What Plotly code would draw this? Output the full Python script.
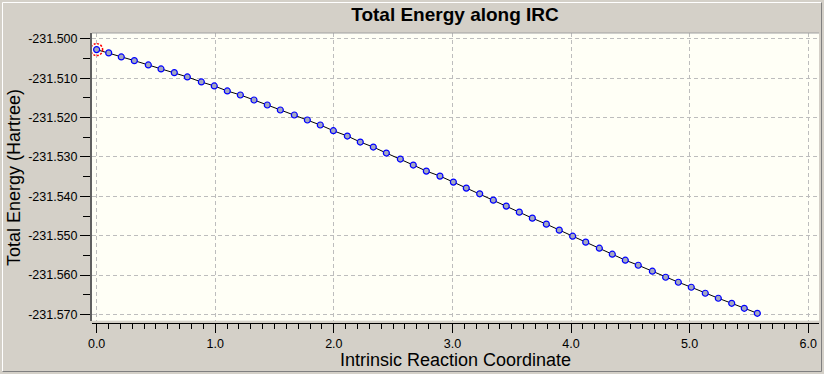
import plotly.graph_objects as go

# IRC data
irc_coord = [0.000, 0.102, 0.208, 0.318, 0.436, 0.543, 0.655, 0.765, 0.883, 0.992,
             1.102, 1.212, 1.327, 1.439, 1.549, 1.667, 1.777, 1.886, 1.996, 2.114,
             2.223, 2.333, 2.443, 2.561, 2.670, 2.780, 2.895, 3.008, 3.117, 3.230,
             3.345, 3.454, 3.564, 3.674, 3.792, 3.901, 4.014, 4.124, 4.239, 4.348,
             4.458, 4.567, 4.686, 4.798, 4.905, 5.014, 5.132, 5.242, 5.355, 5.461,
             5.571]
energy = [-231.50272, -231.50356, -231.50458, -231.50552, -231.50662, -231.50763,
          -231.50858, -231.50967, -231.51094, -231.51196, -231.51323, -231.51425,
          -231.51552, -231.51679, -231.51807, -231.51934, -231.52061, -231.52188,
          -231.52333, -231.52468, -231.52621, -231.52748, -231.52901, -231.53053,
          -231.53206, -231.53359, -231.53486, -231.53639, -231.53791, -231.53936,
          -231.54097, -231.54249, -231.54402, -231.54555, -231.54707, -231.54860,
          -231.55013, -231.55165, -231.55318, -231.55471, -231.55623, -231.55751,
          -231.55903, -231.56056, -231.56183, -231.56310, -231.56463, -231.56590,
          -231.56718, -231.56845, -231.56972]

x_tick_vals = [0, 1, 2, 3, 4, 5, 6]
x_tick_labels = ["0.0", "1.0", "2.0", "3.0", "4.0", "5.0", "6.0"]
y_tick_vals = [-231.50, -231.51, -231.52, -231.53, -231.54, -231.55, -231.56, -231.57]
y_tick_labels = ["-231.500", "-231.510", "-231.520", "-231.530",
                 "-231.540", "-231.550", "-231.560", "-231.570"]

FONT = "Liberation Sans, Arial, sans-serif"
PAPER = "#D4D0C8"
PLOT_BG = "#FFFFF6"
GRID = "#BDBDBD"

fig = go.Figure()
fig.add_trace(go.Scatter(
    x=irc_coord, y=energy, mode="lines+markers",
    line=dict(color="black", width=1),
    marker=dict(size=6, color="#A4A8C0", line=dict(color="#0000FF", width=1.2)),
    showlegend=False, hoverinfo="x+y",
))

W, H = 824, 374
ml, mr, mt, mb = 92, 5, 33, 51
pw, ph = W - ml - mr, H - mt - mb


def px_x(p):
    return (p - ml) / pw


def px_y(p):
    return (H - mb - p) / ph


shapes = [
    # red dotted highlight around the first point
    dict(type="circle", xref="x", yref="y", xsizemode="pixel", ysizemode="pixel",
         xanchor=irc_coord[0], yanchor=energy[0], x0=-6, x1=6, y0=-6, y1=6,
         line=dict(color="#FF0000", width=1.5, dash="2px,1.5px"), layer="above"),
    # top border of plot area
    dict(type="line", xref="paper", yref="paper", x0=0, x1=1, y0=1, y1=1,
         line=dict(color="#A0A0A0", width=1)),
    # outer 3D frame
    dict(type="line", xref="paper", yref="paper", x0=px_x(2.5), x1=px_x(821.5),
         y0=px_y(2.5), y1=px_y(2.5), line=dict(color="#FFFFFF", width=1), layer="below"),
    dict(type="line", xref="paper", yref="paper", x0=px_x(2.5), x1=px_x(2.5),
         y0=px_y(2.5), y1=px_y(371.5), line=dict(color="#FFFFFF", width=1), layer="below"),
    dict(type="line", xref="paper", yref="paper", x0=px_x(2.5), x1=px_x(821.5),
         y0=px_y(371.5), y1=px_y(371.5), line=dict(color="#808080", width=1), layer="below"),
    dict(type="line", xref="paper", yref="paper", x0=px_x(821.5), x1=px_x(821.5),
         y0=px_y(2.5), y1=px_y(371.5), line=dict(color="#808080", width=1), layer="below"),
]

annotations = [
    dict(text="Total Energy (Hartree)", xref="paper", yref="paper", x=0, y=0.5,
         xanchor="center", yanchor="middle", xshift=14 - ml, textangle=-90,
         showarrow=False, font=dict(family=FONT, size=18, color="black")),
    dict(text="Intrinsic Reaction Coordinate", xref="paper", yref="paper",
         x=px_x(455), y=px_y(360), xanchor="center", yanchor="middle",
         showarrow=False, font=dict(family=FONT, size=18, color="black")),
]

fig.update_layout(
    width=W, height=H,
    margin=dict(l=ml, r=mr, t=mt, b=mb, pad=0),
    paper_bgcolor=PAPER, plot_bgcolor=PLOT_BG,
    font=dict(family=FONT, size=12, color="black"),
    title=dict(text="<b>Total Energy along IRC</b>", x=px_x(455), xref="paper",
               xanchor="center", y=1 - 14 / H, yref="container", yanchor="middle",
               font=dict(family=FONT, size=19, color="black")),
    shapes=shapes, annotations=annotations,
    xaxis=dict(
        range=[-0.039, 6.091], anchor="free", position=0,
        tickmode="array", tickvals=x_tick_vals, ticktext=x_tick_labels,
        ticks="outside", ticklen=9, tickcolor="black", tickwidth=1,
        minor=dict(dtick=0.1, ticklen=5, tickcolor="black", ticks="outside", showgrid=False),
        showline=True, linecolor="black", linewidth=1,
        showgrid=True, gridcolor=GRID, griddash="4px,3px", gridwidth=1,
        zeroline=False, tickfont=dict(family=FONT, size=12.5),
    ),
    yaxis=dict(
        range=[-231.5716, -231.4985], domain=[0.008, 1],
        tickmode="array", tickvals=y_tick_vals, ticktext=y_tick_labels,
        ticks="outside", ticklen=10, tickcolor="black", tickwidth=1,
        minor=dict(dtick=0.005, tick0=-231.5, ticklen=7, tickcolor="black",
                   ticks="outside", showgrid=False),
        showline=True, linecolor="#606060", linewidth=2,
        showgrid=True, gridcolor=GRID, griddash="4px,3px", gridwidth=1,
        zeroline=False, tickfont=dict(family=FONT, size=12.5),
    ),
)

fig.write_html(
    "out.html",
    config={"displayModeBar": False},
    post_script="document.body.style.margin='0';document.body.style.padding='0';"
                "document.body.style.overflow='hidden';",
)
